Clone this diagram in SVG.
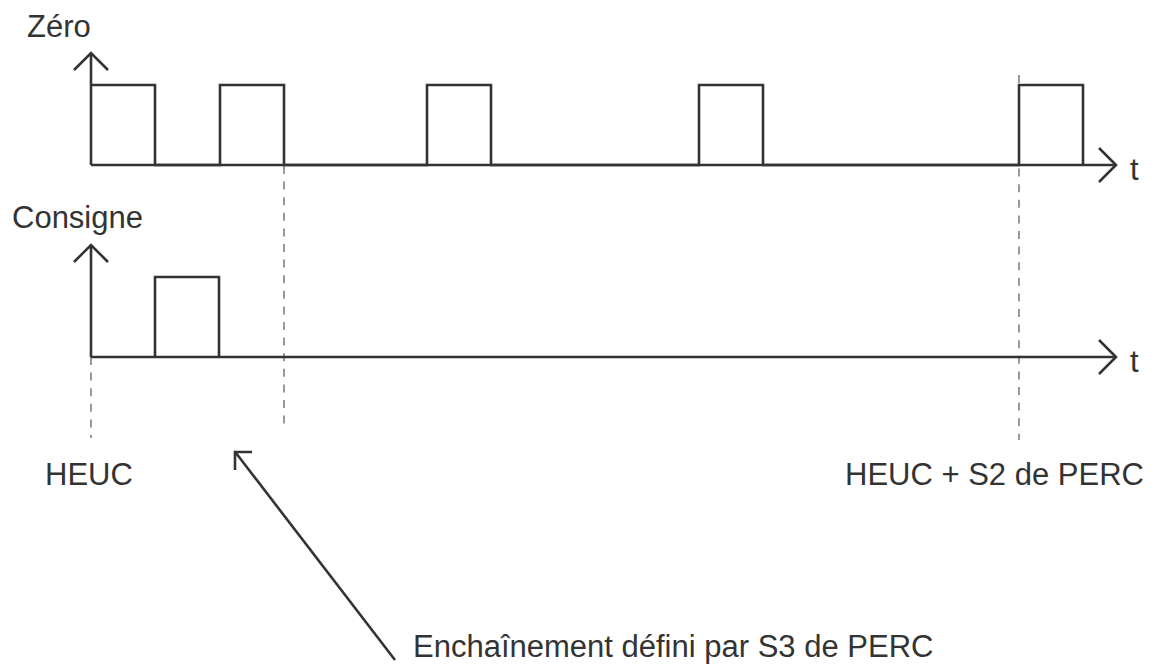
<svg xmlns="http://www.w3.org/2000/svg" width="1155" height="664" viewBox="0 0 1155 664">
<style>
.sig{fill:none;stroke:#333;stroke-width:2.6;stroke-linejoin:miter;stroke-linecap:butt}
.ax{fill:none;stroke:#333;stroke-width:2.6;stroke-linecap:butt}
.dash{fill:none;stroke:#555;stroke-width:1.2;stroke-dasharray:8 7.6}
text{font-family:"Liberation Sans",Arial,sans-serif;font-size:31px;fill:#333}
</style>
<rect width="1155" height="664" fill="#fff"/>
<g id="guides">
<line class="dash" x1="91" y1="357" x2="91" y2="438"/>
<line class="dash" x1="284" y1="166" x2="284" y2="431"/>
<line class="dash" x1="1019" y1="75" x2="1019" y2="440"/>
</g>
<g id="zero">
<text x="27" y="37">Zéro</text>
<line class="ax" x1="91" y1="165" x2="91" y2="54"/>
<polyline class="ax" points="74,70 91,53 108,70"/>
<polyline class="sig" points="91,85 155,85 155,165 220,165 220,85 284,85 284,165 427,165 427,85 491,85 491,165 699,165 699,85 763,85 763,165 1019,165 1019,85 1083,85 1083,165"/>
<line class="ax" x1="91" y1="165" x2="1116" y2="165"/>
<polyline class="ax" points="1099,148 1116,165 1099,182"/>
<text x="1130" y="180">t</text>
</g>
<g id="consigne">
<text x="12" y="228">Consigne</text>
<line class="ax" x1="91" y1="357" x2="91" y2="246"/>
<polyline class="ax" points="74,262 91,245 108,262"/>
<polyline class="sig" points="155,357 155,277 219,277 219,357"/>
<line class="ax" x1="91" y1="357" x2="1116" y2="357"/>
<polyline class="ax" points="1099,340 1116,357 1099,374"/>
<text x="1130" y="372">t</text>
</g>
<g id="labels">
<text x="45" y="485">HEUC</text>
<text x="845" y="485">HEUC + S2 de PERC</text>
</g>
<g id="connectors">
<line class="ax" x1="395" y1="660" x2="236" y2="453"/>
<polyline class="ax" points="252,452 235,452 235,470"/>
</g>
<g id="note">
<text x="413" y="657">Enchaînement défini par S3 de PERC</text>
</g>
</svg>
